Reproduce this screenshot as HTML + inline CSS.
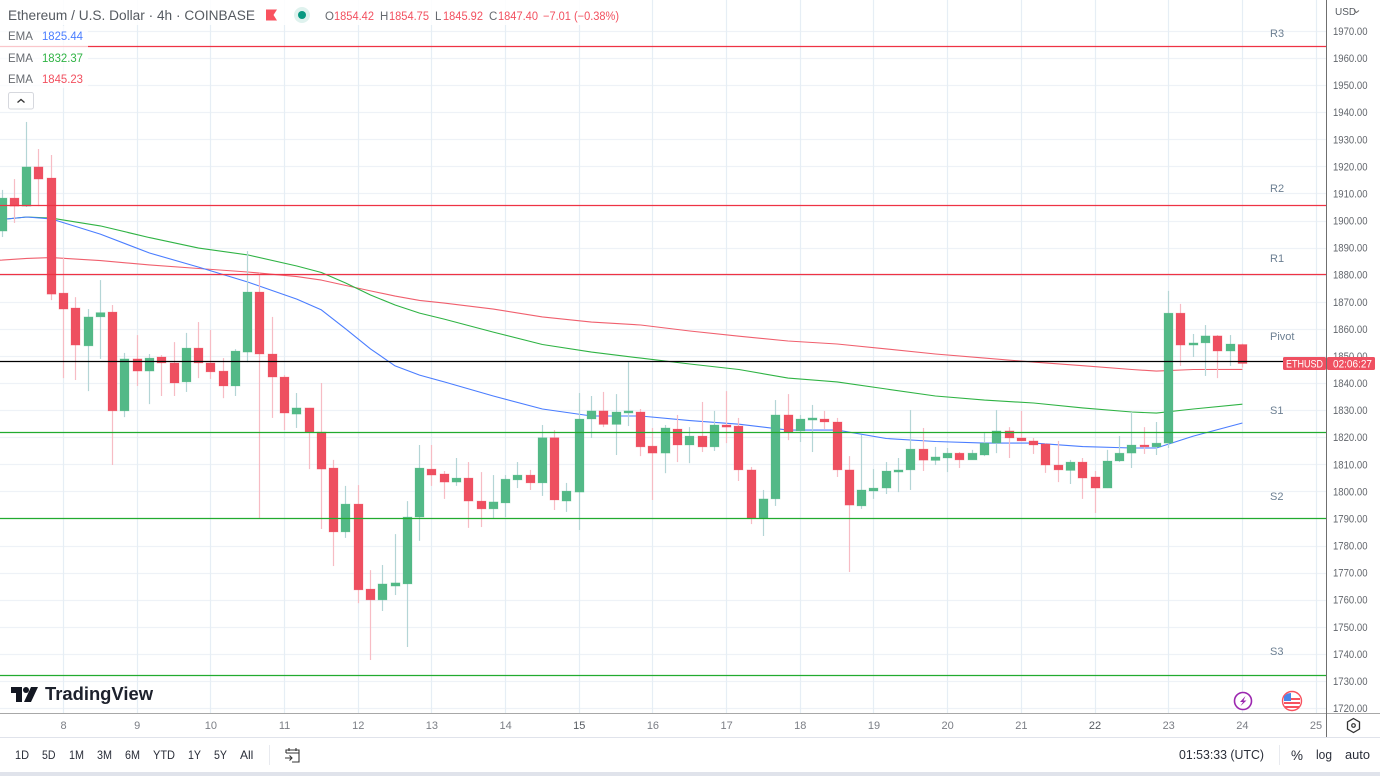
<!DOCTYPE html>
<html lang="en">
<head>
<meta charset="utf-8">
<title>Ethereum / U.S. Dollar 4h chart</title>
<style>
html,body{margin:0;padding:0;background:#fff;width:1380px;height:776px;overflow:hidden}
svg{display:block;font-family:"Liberation Sans",sans-serif}
</style>
</head>
<body>
<svg id="chart" xmlns="http://www.w3.org/2000/svg" width="1380" height="776" viewBox="0 0 1380 776">
  <rect x="0" y="0" width="1380" height="776" fill="#ffffff"/>
  <g id="grid"></g>
  <g id="emas"></g>
  <g id="candles"></g>
  <g id="levels"></g>

  <rect x="0" y="26" width="88" height="62" fill="#ffffff" fill-opacity="0.72"/>
  <rect x="0" y="0" width="625" height="25" fill="#ffffff" fill-opacity="0.85"/>

  <text x="8" y="20" font-size="13.5" fill="#555a60" textLength="247" lengthAdjust="spacingAndGlyphs">Ethereum / U.S. Dollar · 4h · COINBASE</text>
  <path d="M266 9.5H277L273.5 15L277 20.5H266Z" fill="#f9525f"/>
  <circle cx="302" cy="15" r="8" fill="#dff2ee"/>
  <circle cx="302" cy="15" r="4" fill="#089981"/>

  <g font-size="11.5">
    <text x="325" y="20" fill="#666a70">O</text>
    <text x="334" y="20" fill="#f2505f" textLength="40" lengthAdjust="spacingAndGlyphs">1854.42</text>
    <text x="380" y="20" fill="#666a70">H</text>
    <text x="389" y="20" fill="#f2505f" textLength="40" lengthAdjust="spacingAndGlyphs">1854.75</text>
    <text x="435" y="20" fill="#666a70">L</text>
    <text x="443" y="20" fill="#f2505f" textLength="40" lengthAdjust="spacingAndGlyphs">1845.92</text>
    <text x="489" y="20" fill="#666a70">C</text>
    <text x="498" y="20" fill="#f2505f" textLength="40" lengthAdjust="spacingAndGlyphs">1847.40</text>
    <text x="543" y="20" fill="#f2505f" textLength="76" lengthAdjust="spacingAndGlyphs">−7.01 (−0.38%)</text>
  </g>

  <g font-size="11.5">
    <text x="8" y="40" fill="#666a70">EMA</text>
    <text x="42" y="40" fill="#4a7dff" textLength="41" lengthAdjust="spacingAndGlyphs">1825.44</text>
    <text x="8" y="62" fill="#666a70">EMA</text>
    <text x="42" y="62" fill="#2fb344" textLength="41" lengthAdjust="spacingAndGlyphs">1832.37</text>
    <text x="8" y="83" fill="#666a70">EMA</text>
    <text x="42" y="83" fill="#f2505f" textLength="41" lengthAdjust="spacingAndGlyphs">1845.23</text>
  </g>
  <g>
    <rect x="8.5" y="92.5" width="25" height="16.5" rx="2" fill="#fff" stroke="#d6d8de"/>
    <path d="M17.5 102.5L21 99.5L24.5 102.5" fill="none" stroke="#333" stroke-width="1.3"/>
  </g>

  <g font-size="11" fill="#6c7f92">
    <text x="1270" y="37">R3</text>
    <text x="1270" y="192">R2</text>
    <text x="1270" y="262">R1</text>
    <text x="1270" y="340">Pivot</text>
    <text x="1270" y="414">S1</text>
    <text x="1270" y="500">S2</text>
    <text x="1270" y="655">S3</text>
  </g>

  <g>
    <path d="M11 687H22V702H16V693H11Z" fill="#131722"/>
    <circle cx="26" cy="690" r="3" fill="#131722"/>
    <path d="M31 687H38L31 702H24Z" fill="#131722"/>
    <text x="45" y="700" font-size="18" font-weight="bold" fill="#1d212c" textLength="108" lengthAdjust="spacingAndGlyphs">TradingView</text>
  </g>

  <rect x="1327.5" y="0" width="52.5" height="713" fill="#ffffff"/>
  <g id="yaxis"></g>
  <g id="xaxis"></g>

  <text x="1335" y="15" font-size="10" fill="#555a60">USD</text>
  <path d="M1354 10.5L1356.5 12.5L1359 10.5" fill="none" stroke="#666" stroke-width="1"/>

  <g>
    <rect x="1283" y="357" width="43" height="13" rx="1.5" fill="#ef5061"/>
    <text x="1286" y="367.5" font-size="11" fill="#fff" textLength="37" lengthAdjust="spacingAndGlyphs">ETHUSD</text>
    <rect x="1327" y="357" width="48" height="13" rx="1.5" fill="#ef5061"/>
    <text x="1333" y="367.5" font-size="11" fill="#fff" textLength="39" lengthAdjust="spacingAndGlyphs">02:06:27</text>
  </g>

  <g>
    <circle cx="1243" cy="701" r="8.5" fill="#fff" stroke="#9c27b0" stroke-width="1.6"/>
    <path d="M1245.5 696L1240 702H1243L1240.5 706L1246.5 700.5H1243.5Z" fill="#9c27b0"/>
  </g>
  <g>
    <circle cx="1292" cy="701" r="9.5" fill="#fff" stroke="#f7525f" stroke-width="1.4"/>
    <rect x="1284" y="698" width="16" height="2" fill="#f7525f"/>
    <rect x="1284" y="702" width="16" height="2" fill="#f7525f"/>
    <rect x="1285" y="706" width="14" height="2" fill="#f7525f"/>
    <path d="M1284 701V697Q1286 693 1291 693V701Z" fill="#4a86e8"/>
  </g>

  <g>
    <path d="M1353.5 718.5L1359.5 722V729L1353.5 732.5L1347.5 729V722Z" fill="none" stroke="#333" stroke-width="1.3"/>
    <circle cx="1353.5" cy="725.5" r="1.8" fill="none" stroke="#333" stroke-width="1.2"/>
  </g>

  <line x1="0" y1="713.5" x2="1380" y2="713.5" stroke="#a8a8a8" stroke-width="1"/>
  <line x1="1326.5" y1="0" x2="1326.5" y2="737" stroke="#6f6f6f" stroke-width="1"/>
  <line x1="0" y1="737.5" x2="1380" y2="737.5" stroke="#e0e3eb" stroke-width="1"/>

  <g font-size="12" fill="#2a2e39">
    <text x="15" y="759" textLength="14" lengthAdjust="spacingAndGlyphs">1D</text>
    <text x="42" y="759" textLength="13.5" lengthAdjust="spacingAndGlyphs">5D</text>
    <text x="69" y="759" textLength="15" lengthAdjust="spacingAndGlyphs">1M</text>
    <text x="97" y="759" textLength="15" lengthAdjust="spacingAndGlyphs">3M</text>
    <text x="125" y="759" textLength="15" lengthAdjust="spacingAndGlyphs">6M</text>
    <text x="153" y="759" textLength="22" lengthAdjust="spacingAndGlyphs">YTD</text>
    <text x="188" y="759" textLength="13" lengthAdjust="spacingAndGlyphs">1Y</text>
    <text x="214" y="759" textLength="13" lengthAdjust="spacingAndGlyphs">5Y</text>
    <text x="240" y="759">All</text>
  </g>
  <line x1="269.5" y1="745" x2="269.5" y2="765" stroke="#e8eaef"/>
  <g fill="none" stroke="#333" stroke-width="1.1">
    <path d="M286 753V750H299V762H292M286 753H299M289 748V751M296 748V751"/>
    <path d="M285 758H292M289.5 755.5L292 758L289.5 760.5"/>
  </g>
  <text x="1179" y="759" font-size="12.5" fill="#2a2e39" textLength="85" lengthAdjust="spacingAndGlyphs">01:53:33 (UTC)</text>
  <line x1="1279.5" y1="745" x2="1279.5" y2="765" stroke="#e8eaef"/>
  <text x="1291" y="760" font-size="13.5" fill="#2a2e39" textLength="12" lengthAdjust="spacingAndGlyphs">%</text>
  <text x="1316" y="759" font-size="12.5" fill="#2a2e39" textLength="16" lengthAdjust="spacingAndGlyphs">log</text>
  <text x="1345" y="759" font-size="12.5" fill="#2a2e39" textLength="25" lengthAdjust="spacingAndGlyphs">auto</text>
  <rect x="0" y="772" width="1380" height="4" fill="#e0e3eb"/>
</svg>

<script>
// ---- chart data (USD prices) ----
const opens = [1896.3,1908.5,1905.5,1920.0,1915.9,1873.4,1867.9,1853.9,1864.6,1866.4,1829.9,1849.1,1844.6,1849.8,1847.6,1840.6,1853.1,1847.6,1844.6,1839.1,1851.6,1873.8,1850.9,1842.4,1828.7,1831.0,1822.1,1808.8,1785.2,1795.5,1764.1,1760.1,1765.2,1766.0,1790.7,1808.4,1806.6,1803.6,1805.1,1796.6,1793.7,1795.9,1804.4,1806.2,1803.3,1820.0,1796.6,1799.9,1826.9,1829.9,1824.9,1829.1,1829.5,1816.9,1814.3,1823.2,1817.3,1820.6,1816.6,1824.7,1824.3,1808.1,1790.3,1797.4,1828.4,1822.5,1826.5,1826.9,1825.8,1808.1,1794.8,1800.3,1801.4,1807.3,1808.1,1815.8,1811.6,1812.5,1814.3,1811.8,1813.6,1818.0,1822.5,1819.9,1818.8,1817.7,1809.9,1807.9,1811.0,1805.5,1801.4,1811.4,1814.3,1817.3,1816.6,1818.0,1866.0,1854.2,1855.0,1857.6,1852.0,1854.42];
const highs = [1911.5,1915.5,1936.6,1926.6,1924.4,1886.7,1871.9,1867.5,1878.2,1869.0,1851.3,1857.9,1850.9,1850.5,1855.3,1858.7,1862.7,1859.8,1849.4,1852.7,1888.9,1881.2,1864.6,1843.1,1836.5,1831.0,1840.2,1811.8,1802.2,1802.5,1771.1,1773.0,1784.4,1796.6,1817.3,1817.3,1807.7,1812.5,1811.0,1807.3,1806.2,1806.2,1811.0,1808.1,1824.7,1822.8,1803.3,1836.5,1835.4,1836.9,1836.1,1847.9,1830.6,1823.6,1824.7,1828.4,1823.9,1833.2,1829.9,1837.2,1827.3,1809.2,1800.7,1833.9,1836.1,1828.4,1832.1,1829.9,1827.3,1813.2,1821.0,1808.4,1811.0,1812.5,1830.2,1823.6,1816.6,1816.2,1814.7,1815.5,1821.7,1830.2,1823.9,1829.9,1819.9,1818.0,1818.8,1811.8,1812.5,1807.7,1815.5,1820.6,1829.5,1823.9,1825.8,1874.2,1869.4,1858.3,1861.6,1857.9,1857.9,1854.75];
const lows = [1894.1,1899.3,1905.2,1905.5,1870.8,1842.0,1841.3,1837.2,1849.1,1809.9,1827.6,1839.1,1832.4,1835.4,1835.4,1836.9,1842.0,1841.7,1834.6,1835.4,1847.9,1790.0,1827.3,1822.8,1823.6,1808.4,1786.3,1772.6,1783.0,1758.9,1737.9,1756.0,1761.9,1742.7,1781.9,1802.2,1797.4,1802.2,1786.7,1787.0,1790.3,1790.7,1801.4,1800.7,1798.5,1793.3,1792.6,1785.9,1819.9,1823.9,1813.6,1824.3,1813.2,1797.0,1806.9,1811.0,1810.6,1814.7,1815.1,1818.0,1804.0,1788.1,1783.7,1794.8,1819.1,1818.4,1814.7,1823.2,1805.5,1770.4,1793.7,1797.4,1799.2,1799.9,1800.7,1807.7,1809.9,1807.3,1808.8,1811.8,1813.2,1814.3,1812.5,1818.8,1814.0,1807.0,1803.6,1802.9,1797.4,1792.2,1801.4,1811.0,1808.8,1814.0,1813.6,1816.2,1846.5,1849.8,1842.8,1842.0,1846.5,1845.92];
const closes = [1908.5,1905.5,1920.0,1915.5,1873.0,1867.5,1854.2,1864.6,1866.2,1829.9,1849.1,1844.6,1849.4,1847.6,1840.2,1853.1,1847.6,1844.3,1839.1,1852.0,1873.8,1850.9,1842.4,1829.1,1831.0,1822.1,1808.4,1785.2,1795.5,1763.8,1760.1,1766.0,1766.4,1790.7,1808.8,1806.2,1803.6,1805.1,1796.6,1793.7,1796.3,1804.7,1806.2,1803.3,1820.0,1797.0,1800.3,1826.9,1829.9,1824.9,1829.5,1829.9,1816.6,1814.3,1823.6,1817.3,1820.6,1816.6,1824.7,1823.9,1808.1,1790.3,1797.4,1828.4,1822.1,1826.9,1827.3,1825.8,1808.1,1795.1,1800.7,1801.4,1807.7,1808.1,1815.8,1811.7,1812.9,1814.3,1811.8,1814.3,1818.0,1822.5,1819.9,1818.8,1817.3,1809.9,1808.1,1811.0,1805.1,1801.4,1811.4,1814.3,1817.3,1816.6,1818.0,1866.0,1854.2,1855.0,1857.6,1852.0,1854.6,1847.40];
const emaCandleIndex = [-1,0,2,4,8,12,16,20,24,26,28,30,32,34,36,40,44,48,52,56,60,64,68,72,76,80,84,88,92,94,97,101];
const emaBlue = [1900.2,1900.6,1901.5,1900.8,1895.2,1888.2,1883.0,1877.5,1871.2,1867.2,1860.1,1852.8,1846.5,1843.1,1840.6,1835.4,1830.6,1828.0,1828.0,1826.3,1825.0,1822.8,1822.8,1819.7,1818.6,1818.0,1818.0,1816.7,1816.2,1816.2,1820.6,1825.44];
const emaGreen = [1900.2,1900.6,1901.5,1901.1,1898.2,1893.9,1890.0,1887.5,1883.4,1881.0,1877.1,1872.7,1869.0,1866.0,1863.8,1859.0,1854.4,1851.6,1849.4,1847.2,1845.2,1842.0,1840.6,1838.0,1835.4,1833.9,1832.8,1831.0,1829.5,1829.1,1830.6,1832.37];
const emaRed = [1885.4,1885.6,1886.2,1886.5,1885.4,1883.8,1882.5,1881.2,1879.5,1878.2,1876.2,1874.2,1872.3,1870.7,1869.7,1867.5,1864.6,1862.7,1861.6,1859.4,1857.5,1855.7,1854.6,1852.8,1850.9,1849.4,1847.9,1846.6,1845.2,1844.6,1845.2,1845.23];
const levelNames = ['r3','r2','r1','pivot','s1','s2','s3'];
const levelValues = [1964.3,1905.9,1880.1,1848.3,1822.1,1790.0,1732.2];
const levelColors = ['#ee3344','#ee3344','#ee3344','#000000','#22ab2f','#22ab2f','#22ab2f'];
const priceTicks = [1970,1960,1950,1940,1930,1920,1910,1900,1890,1880,1870,1860,1850,1840,1830,1820,1810,1800,1790,1780,1770,1760,1750,1740,1730,1720];
const dayLabels = [8,9,10,11,12,13,14,15,16,17,18,19,20,21,22,23,24,25];

// ---- axis functions ----
const NS = 'http://www.w3.org/2000/svg';
const PLOT_RIGHT = 1326;
function yScale(price){ return 31.5 + (1970 - price) * 2.708; }
function xScale(candle){ return 2.1 + candle * 12.28; }
function dayToCandle(pos){ return 5 + pos * 6; }
function crisp(v){ return Math.round(v - 0.5) + 0.5; }
function make(tag, parent, attrs){
  const el = document.createElementNS(NS, tag);
  for (const k in attrs) el.setAttribute(k, attrs[k]);
  parent.appendChild(el);
  return el;
}

const gridG = document.getElementById('grid');
const yaxisG = document.getElementById('yaxis');
const xaxisG = document.getElementById('xaxis');
const emaG = document.getElementById('emas');
const candleG = document.getElementById('candles');
const levelG = document.getElementById('levels');

// horizontal grid + price labels
priceTicks.forEach(function(p){
  const y = crisp(yScale(p));
  const g = make('line', gridG, {x1:0, x2:PLOT_RIGHT, y1:y, y2:y, stroke:'#eef2f7', 'stroke-width':1.2});
  
  
  const t = make('text', yaxisG, {x:1333, y:yScale(p) + 3.5, 'font-size':11, fill:'#62666c', textLength:34.5, lengthAdjust:'spacingAndGlyphs'});
  t.textContent = p.toFixed(2);
  
  
});

// vertical grid + day labels
dayLabels.forEach(function(d, pos){
  const cx = xScale(dayToCandle(pos));
  const g = make('line', gridG, {x1:crisp(cx), x2:crisp(cx), y1:0, y2:713, stroke:'#e6eef5', 'stroke-width':1.2});
  
  
  const t = make('text', xaxisG, {x:cx, y:729, 'font-size':11, 'text-anchor':'middle', fill:(d === 15 || d === 22) ? '#555a60' : '#7b7e85'});
  t.textContent = String(d);
  
  
});

// EMA lines
function drawEma(values, color, name){
  const pts = values.map(function(v, k){ return xScale(emaCandleIndex[k]).toFixed(1) + ',' + yScale(v).toFixed(1); }).join(' ');
  const pl = make('polyline', emaG, {points:pts, fill:'none', stroke:color, 'stroke-width':1.1, 'stroke-linejoin':'round'});
  
  
}
drawEma(emaRed, '#f0606e', 'ema-red-line');
drawEma(emaGreen, '#2fb344', 'ema-green-line');
drawEma(emaBlue, '#4a7dff', 'ema-blue-line');

// candles
opens.forEach(function(o, i){
  const up = closes[i] >= o;
  const cx = xScale(i);
  const wx = crisp(cx);
  const wick = make('line', candleG, {x1:wx, x2:wx, y1:yScale(highs[i]), y2:yScale(lows[i]), stroke:up ? '#b4d5d6' : '#f7bcc4', 'stroke-width':1.2});
  
  
  const top = yScale(Math.max(o, closes[i]));
  const bot = yScale(Math.min(o, closes[i]));
  const color = up ? '#53b987' : '#ee4f60';
  const body = make('rect', candleG, {x:wx - 4.5, y:top, width:9, height:Math.max(1.5, bot - top), fill:color, stroke:color, 'stroke-opacity':0.3, 'stroke-width':0.8});
  
  
});

// horizontal pivot levels
levelValues.forEach(function(v, i){
  const y = crisp(yScale(v));
  const l = make('line', levelG, {x1:0, x2:PLOT_RIGHT, y1:y, y2:y, stroke:levelColors[i], 'stroke-width':1.3});
  
  
});
</script>
</body>
</html>
